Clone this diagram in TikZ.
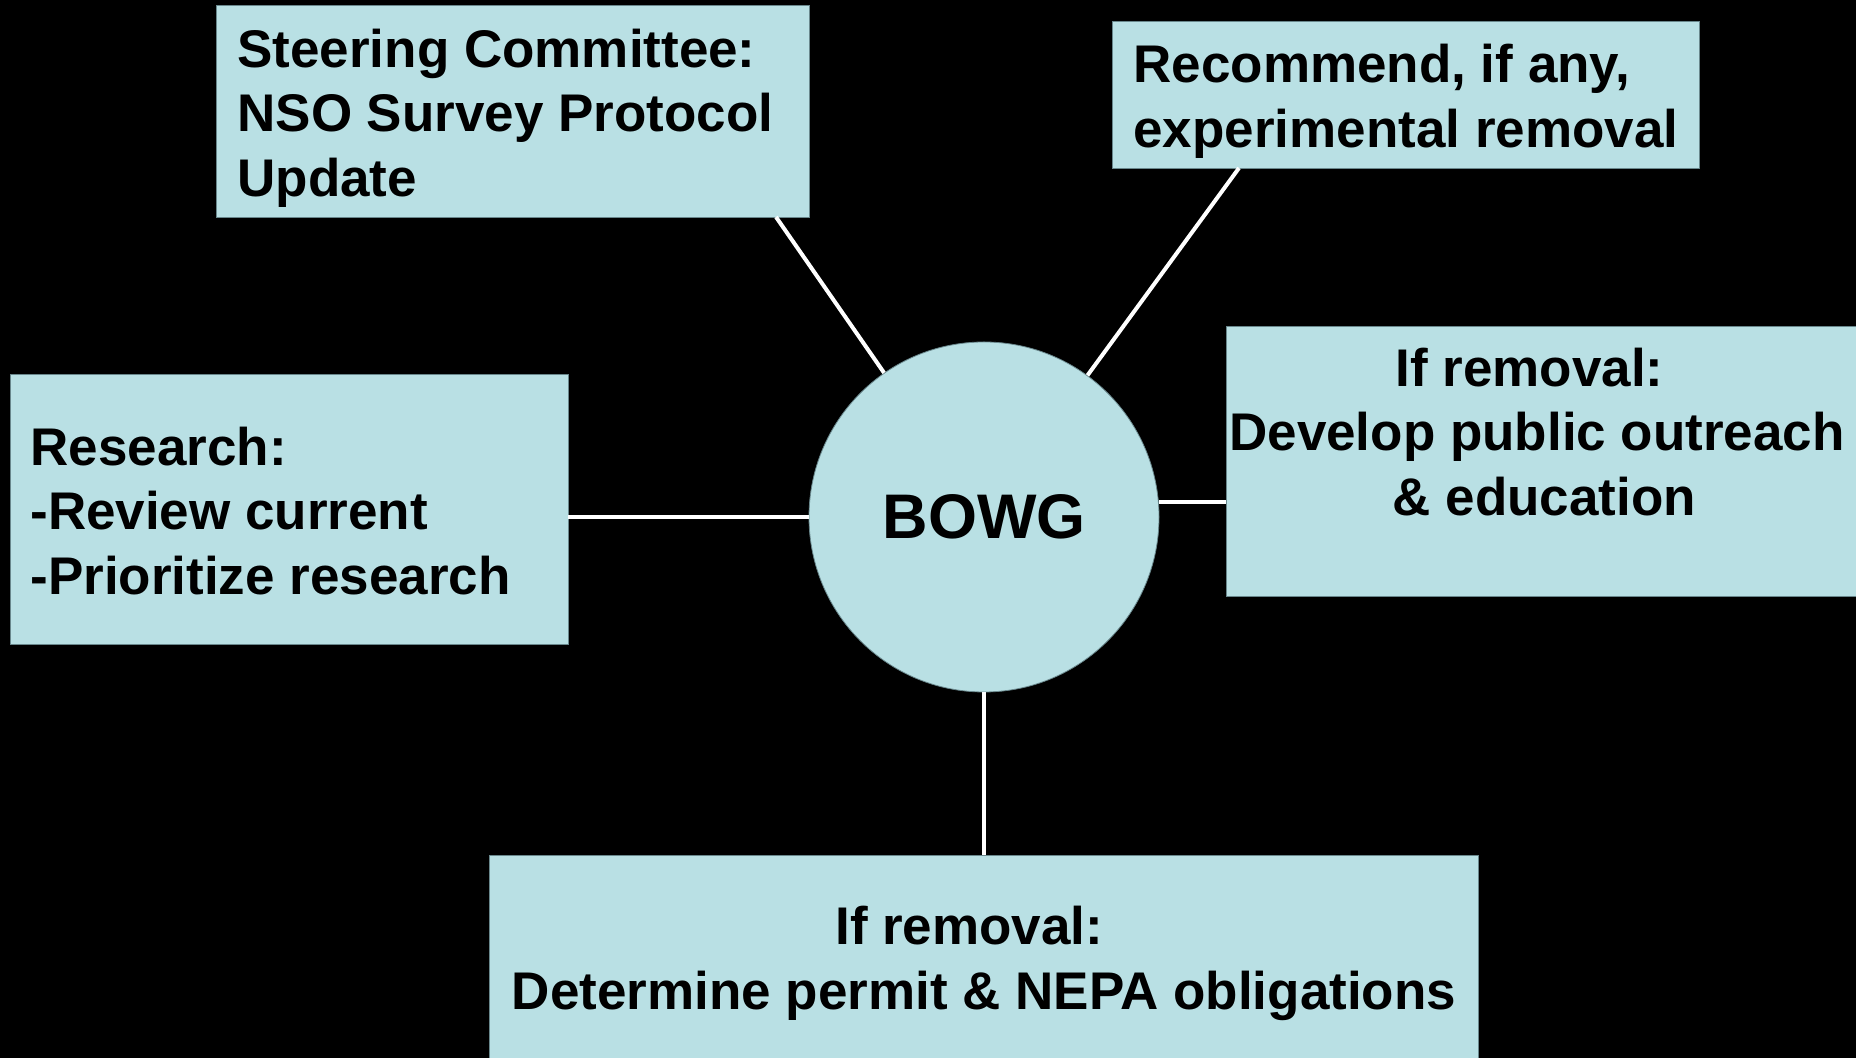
\documentclass[tikz,border=0pt]{standalone}
\usepackage{fontspec}
\setmainfont{Liberation Sans}
\definecolor{boxblue}{RGB}{185,224,228}
\definecolor{edgegray}{RGB}{105,135,140}
\begin{document}
\begin{tikzpicture}[x=0.5pt,y=0.5pt,
  box/.style={rectangle, draw=edgegray, line width=0.4pt, fill=boxblue, inner sep=0pt},
  boxtext/.style={inner sep=0pt, font=\fontsize{26.5}{32.3}\selectfont\bfseries},
  link/.style={draw=white, line width=2pt}]
\useasboundingbox (0,0) rectangle (1856,1058);
\clip (0,0) rectangle (1856,1058);
\fill[black] (0,0) rectangle (1856,1058);

% boxes
\node[box, minimum width=296.5pt, minimum height=106pt] (steer) at (512.5,947) {};
\node[box, minimum width=293.5pt, minimum height=73.5pt] (rec) at (1405.5,963.5) {};
\node[box, minimum width=279pt, minimum height=135pt] (res) at (289,549) {};
\node[box, minimum width=337pt, minimum height=135pt] (rgt) at (1563,597) {};
\node[box, minimum width=494.5pt, minimum height=121.5pt] (bot) at (983.5,81.5) {};

% centre circle
\node[circle, draw=edgegray, line width=0.4pt, fill=boxblue, minimum size=175pt, inner sep=0pt,
      font=\fontsize{31.5}{36}\selectfont\bfseries] (bowg) at (984,541) {BOWG};

% connectors
\coordinate (c1) at (776,841);
\coordinate (c2) at (1239,890);
\draw[link] (c1) -- (bowg);
\draw[link] (c2) -- (bowg);
\draw[link] (bowg.west -| res.east) -- (bowg.west);
\draw[link] (bowg.5.25 -| rgt.west) -- (bowg.5.25);
\draw[link] (bowg.south) -- (bowg.south |- bot.north);

% texts
\node[boxtext, align=left, anchor=west] (tsteer) at (237,940)
  {Steering Committee:\\NSO Survey Protocol\\Update};
\node[boxtext, align=left, anchor=west] (trec) at (1133,956.5)
  {Recommend, if any,\\experimental removal};
\node[boxtext, align=left, anchor=west] (tres) at (30,547)
  {Research:\\-Review current\\-Prioritize research};
\node[boxtext, align=center] (trgt) at (1537,626)
  {If removal:\hspace*{7.4pt}\\Develop public outreach\\\hspace*{7.4pt}\& education};
\node[boxtext, align=center] (tbot) at (984,94.5)
  {If removal:\hspace*{14.7pt}\\Determine permit \& NEPA obligations};
\end{tikzpicture}
\end{document}
